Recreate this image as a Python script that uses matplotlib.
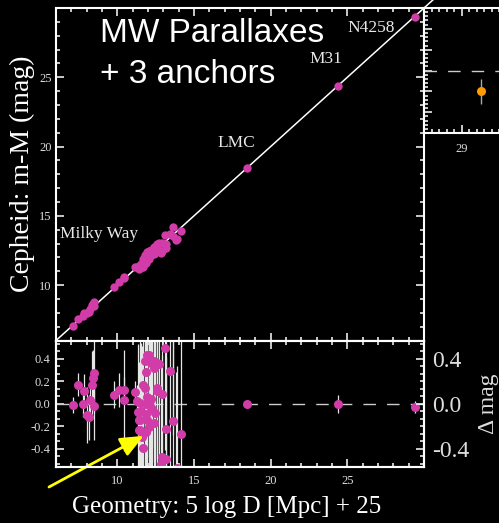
import numpy as np
import matplotlib.pyplot as plt
from matplotlib.ticker import MultipleLocator, FormatStrFormatter

plt.rcParams['font.family'] = 'Liberation Serif'
plt.rcParams['axes.unicode_minus'] = False

# Milky Way Cepheids: geometric distance modulus, Cepheid - geometry residual, error
mw_geo = [7.08, 7.41, 7.74, 7.85, 8.05, 8.18, 8.22, 8.38, 8.44, 8.49, 8.49,
          9.76, 10.09, 10.46, 10.46,
          11.18, 11.29, 11.35, 11.40, 11.40, 11.47, 11.47, 11.51, 11.56, 11.62,
          11.66, 11.68, 11.78, 11.78, 11.84, 11.84, 11.84, 11.90, 11.95, 11.95,
          11.95, 12.06, 12.06, 12.10, 12.17, 12.17, 12.26, 12.39, 12.39, 12.39,
          12.43, 12.57, 12.57, 12.57, 12.72, 12.83, 12.93, 12.93, 13.12, 13.16,
          13.16, 13.42, 13.66, 13.92, 14.14, 13.60, 13.85]
mw_dmag = [-0.01, 0.17, 0.00, 0.11, -0.10, -0.12, 0.03, 0.17, 0.23, 0.27, -0.02,
           0.08, 0.12, 0.12, 0.03,
           0.10, 0.02, -0.07, -0.14, -0.23, 0.01, -0.14, -0.23, -0.06, -0.29,
           -0.39, 0.17, 0.14, 0.38, 0.28, -0.09, -0.25, 0.00, 0.06, 0.43,
           -0.14, 0.43, -0.21, -0.02, 0.36, 0.04, -0.05, 0.38, 0.32, -0.17,
           -0.08, 0.36, 0.14, 0.11, 0.35, -0.53, 0.09, -0.47, 0.49, -0.22,
           -0.49, 0.29, -0.15, -0.57, -0.27, 0.62, -0.62]
mw_err = [0.07, 0.10, 0.12, 0.15, 0.25, 0.20, 0.15, 0.30, 0.25, 0.35, 0.30,
          0.12, 0.15, 0.12, 0.45,
          0.10, 0.15, 0.60, 0.30, 0.60, 0.50, 0.80, 0.40, 0.60, 0.80,
          0.50, 0.80, 0.80, 0.70, 0.80, 0.60, 0.50, 0.90, 0.80, 0.60,
          0.80, 0.90, 0.80, 0.90, 0.80, 0.90, 0.80, 0.90, 0.70, 0.90,
          0.80, 0.90, 0.90, 0.60, 0.90, 0.90, 0.80, 0.90, 0.90, 0.90,
          0.90, 0.90, 0.90, 0.90, 0.90, 0.90, 0.90]

# external anchors
anchor_names = ['LMC', 'M31', 'N4258']
anchor_geo = [18.48, 24.36, 29.39]
anchor_dmag = [0.00, 0.00, -0.03]
anchor_err = [0.03, 0.08, 0.05]

# zoomed panel point
inset_geo = [29.51]
inset_dmag = [-0.10]
inset_err = [0.06]

MAG = '#d23ca8'
GREY = '#dddddd'

W, H = 499, 523
fig = plt.figure(figsize=(W / 100, H / 100), dpi=100, facecolor='black')


def box(l, t, r, b):
    return [l / W, 1 - b / H, (r - l) / W, (b - t) / H]


def style(a):
    a.set_facecolor('black')
    for s in a.spines.values():
        s.set_color('white')
        s.set_linewidth(1.5)
    a.tick_params(which='both', direction='in', colors='white', labelcolor=GREY,
                  top=True, right=True, width=1.1)
    a.tick_params(which='major', length=6)
    a.tick_params(which='minor', length=3)


ax = fig.add_axes(box(56, 8, 424, 340.5))
axr = fig.add_axes(box(56, 340.5, 424, 467))
axi = fig.add_axes(box(424, 8, 536.5, 133))
for a in (ax, axr, axi):
    style(a)

geo = np.array(mw_geo)
dmag = np.array(mw_dmag)
ageo = np.array(anchor_geo)
admag = np.array(anchor_dmag)

# top: Cepheid distance modulus vs geometric one
ax.plot([6, 31], [6, 31], color='white', lw=1.1, clip_on=False, zorder=1)
ax.plot(geo, geo + dmag, 'o', color=MAG, ms=6, mec='none', zorder=3)
ax.plot(ageo, ageo + admag, 'o', color=MAG, ms=6, mec='none', zorder=3)
ax.set_xlim(6, 30)
ax.set_ylim(6, 30)
ax.xaxis.set_major_locator(MultipleLocator(5))
ax.xaxis.set_minor_locator(MultipleLocator(1))
ax.set_yticks([10, 15, 20, 25])
ax.yaxis.set_minor_locator(MultipleLocator(1))
ax.tick_params(labelbottom=False, labelsize=9, pad=3)

lab = dict(color='#e8e8e8', fontsize=12.5, ha='left', va='baseline')
ax.text(24.98, 28.26, 'N4258', **lab)
ax.text(22.5, 26.02, 'M31', **lab)
ax.text(16.5, 19.95, 'LMC', **lab)
ax.text(6.26, 13.37, 'Milky Way', **lab)

title = dict(color='white', fontsize=24, family='Liberation Sans',
             va='baseline', ha='left')
fig.text(100 / W, 1 - 42 / H, 'MW Parallaxes', **title)
fig.text(100 / W, 1 - 83 / H, '+ 3 anchors', **title)

# bottom: residuals
axr.errorbar(geo, dmag, yerr=mw_err, fmt='o', color=MAG, ecolor='#e6e6e6',
             elinewidth=0.9, ms=6.5, mec='none', capsize=0, zorder=3)
axr.errorbar(ageo, admag, yerr=anchor_err, fmt='o', color=MAG, ecolor='#e6e6e6',
             elinewidth=0.9, ms=6.5, mec='none', capsize=0, zorder=3)
axr.axhline(0, color='#cccccc', lw=1, ls=(0, (9, 8)), zorder=2)
axr.set_xlim(6, 30)
axr.set_ylim(-0.56, 0.56)
axr.set_xticks([10, 15, 20, 25])
axr.xaxis.set_minor_locator(MultipleLocator(1))
axr.yaxis.set_major_locator(MultipleLocator(0.2))
axr.yaxis.set_minor_locator(MultipleLocator(0.2 / 3))
axr.yaxis.set_major_formatter(FormatStrFormatter('%.1f'))
axr.tick_params(labelsize=9, right=False)
axr.tick_params(axis='x', pad=6)
axr.tick_params(axis='y', pad=4)

axr2 = axr.twinx()
axr2.set_ylim(-0.56, 0.56)
axr2.set_yticks([-0.4, 0.0, 0.4])
axr2.yaxis.set_minor_locator(MultipleLocator(0.2 / 3))
axr2.yaxis.set_major_formatter(FormatStrFormatter('%.1f'))
axr2.tick_params(which='both', direction='in', colors='white', labelcolor=GREY,
                 labelsize=17, pad=6, width=1.1)
axr2.tick_params(which='major', length=6)
axr2.tick_params(which='minor', length=3)
for s in axr2.spines.values():
    s.set_color('white')
    s.set_linewidth(1.5)
axr2.set_ylabel('Δ mag', color=GREY, fontsize=17, labelpad=6)

# zoom on the anchor
axi.axhline(0, color='#cccccc', lw=1, ls=(0, (9, 8)))
axi.errorbar(inset_geo, inset_dmag, yerr=inset_err, fmt='o', color='#ff9a00',
             ecolor='#aaaaaa', elinewidth=1, ms=6.5, mec='none', capsize=0)
axi.set_xlim(28, 31)
axi.set_ylim(-0.3, 0.3)
axi.set_xticks([29])
axi.xaxis.set_minor_locator(MultipleLocator(0.2))
axi.yaxis.set_major_locator(MultipleLocator(0.1))
axi.yaxis.set_minor_locator(MultipleLocator(0.02))
axi.tick_params(labelleft=False, labelsize=9, pad=7)

fig.text(22 / W, 1 - 174 / H, 'Cepheid: m-M (mag)', color='white', fontsize=20,
         rotation=90, ha='center', va='center')
fig.text(227 / W, 1 - 507 / H, 'Geometry: 5 log D [Mpc] + 25', color='white',
         fontsize=18, ha='center', va='center')

axr.annotate('', xy=(11.72, -0.284), xycoords='data', xytext=(49, 36),
             textcoords='figure pixels', annotation_clip=False, zorder=10,
             arrowprops=dict(arrowstyle='-|>,head_length=1.4,head_width=0.6',
                             color='yellow', lw=2, shrinkA=0, shrinkB=0))

fig.savefig('out.png', dpi=100, facecolor='black')
